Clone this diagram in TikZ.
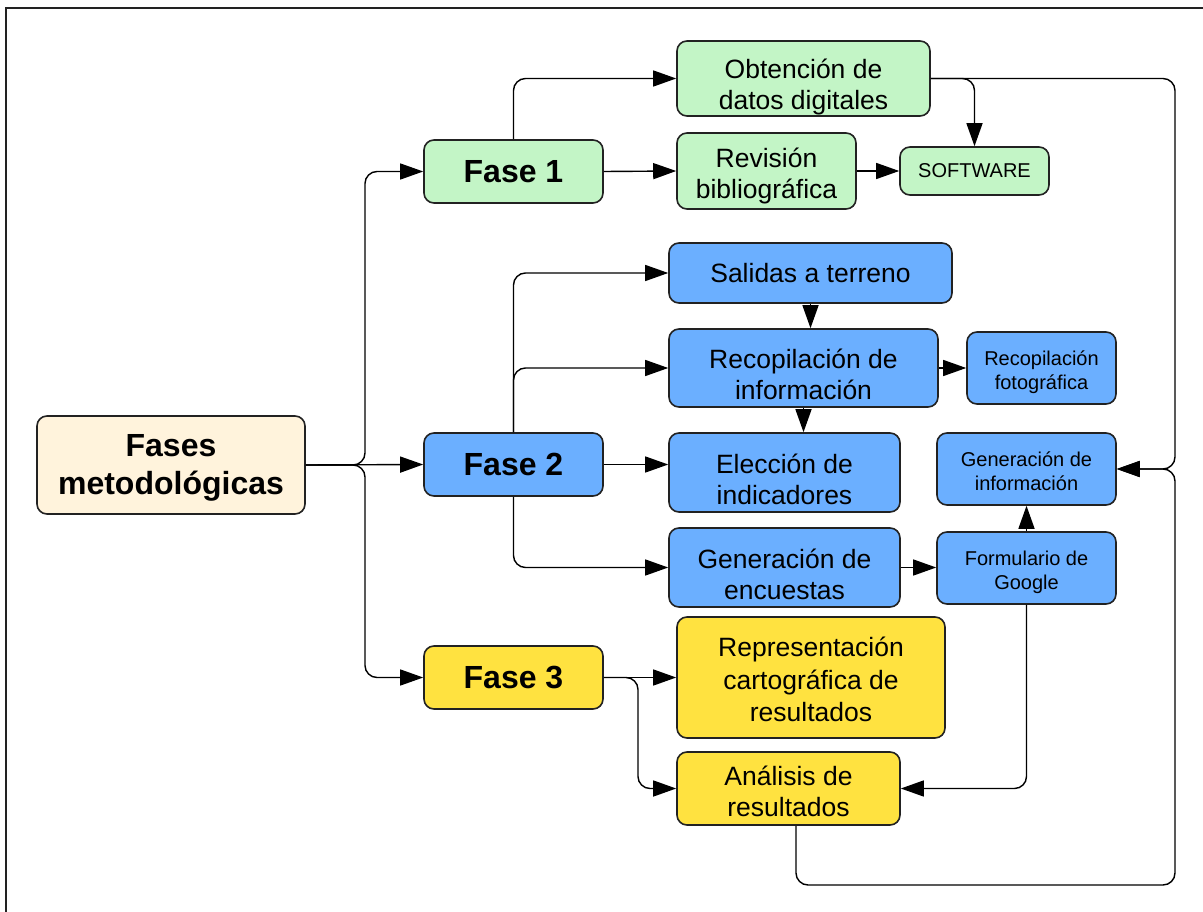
\documentclass[tikz,border=0pt]{standalone}
\usepackage{fontspec}
\setmainfont{Liberation Sans}
\usetikzlibrary{arrows.meta}
\definecolor{cgreen}{HTML}{C3F5C6}
\definecolor{cblue}{HTML}{6BAFFF}
\definecolor{cyellow}{HTML}{FFE240}
\definecolor{ccream}{HTML}{FFF3DC}
\definecolor{cline}{HTML}{222222}
% multi-line text, lowered by #1 pt without changing its reported size
\newcommand{\mltxt}[2]{\raisebox{-#1pt}[\height][\depth]{\begin{tabular}{@{}c@{}}#2\end{tabular}}}
\begin{document}
\begin{tikzpicture}[x=1pt,y=-1pt,
  box/.style={draw=cline, line width=1.6pt, rounded corners=10pt, inner sep=0pt, text=black},
  fbig/.style={font=\fontsize{26.5}{31}\selectfont},
  fbigw/.style={font=\fontsize{26.5}{32.5}\selectfont},
  fsmall/.style={font=\fontsize{20}{24}\selectfont},
  fbold/.style={font=\bfseries\fontsize{32}{38}\selectfont},
  arr/.style={draw=black, line width=1.4pt, rounded corners=12pt, -{Triangle[length=23pt,width=16pt]}},
  conn/.style={draw=black, line width=1.4pt, rounded corners=12pt}]
\useasboundingbox (0,0) rectangle (1203,912);
% frame
\draw[line width=2pt, cline] (6,915) -- (6,8) -- (1206,8);
% nodes
\node[box, fill=ccream, minimum width=268pt, minimum height=98pt, fbold] (fm) at (171,465) {\mltxt{3}{Fases\\metodológicas}};
\node[box, fill=cgreen, minimum width=179pt, minimum height=63pt, fbold] (f1) at (513.5,171.5) {Fase 1};
\node[box, fill=cblue, minimum width=179pt, minimum height=63pt, fbold] (f2) at (513.5,464.5) {Fase 2};
\node[box, fill=cyellow, minimum width=179pt, minimum height=63pt, fbold] (f3) at (513.5,677.5) {Fase 3};
\node[box, fill=cgreen, minimum width=253pt, minimum height=75pt, fbig] (obt) at (803.5,78.5) {\mltxt{9}{Obtención de\\datos digitales}};
\node[box, fill=cgreen, minimum width=179pt, minimum height=76pt, fbig] (rev) at (766.5,171) {\mltxt{6}{Revisión\\bibliográfica}};
\node[box, fill=cgreen, minimum width=149pt, minimum height=48pt, fsmall] (soft) at (974.5,171) {SOFTWARE};
\node[box, fill=cblue, minimum width=283pt, minimum height=60pt, fbig] (sal) at (810.5,273) {Salidas a terreno};
\node[box, fill=cblue, minimum width=269pt, minimum height=78pt, fbig] (rec) at (803.5,368) {\mltxt{10}{Recopilación de\\información}};
\node[box, fill=cblue, minimum width=149pt, minimum height=72pt, fsmall] (foto) at (1041.5,368) {\mltxt{5}{Recopilación\\fotográfica}};
\node[box, fill=cblue, minimum width=231pt, minimum height=79pt, fbig] (ele) at (784.5,472.5) {\mltxt{10}{Elección de\\indicadores}};
\node[box, fill=cblue, minimum width=179pt, minimum height=72pt, fsmall] (geni) at (1026.5,469) {\mltxt{5}{Generación de\\información}};
\node[box, fill=cblue, minimum width=231pt, minimum height=79pt, fbig] (enc) at (784.5,567.5) {\mltxt{10}{Generación de\\encuestas}};
\node[box, fill=cblue, minimum width=179pt, minimum height=72pt, fsmall] (form) at (1026.5,568) {\mltxt{5}{Formulario de\\Google}};
\node[box, fill=cyellow, minimum width=268pt, minimum height=121pt, fbigw] (rep) at (811,677.5) {\mltxt{5}{Representación\\cartográfica de\\resultados}};
\node[box, fill=cyellow, minimum width=223pt, minimum height=73pt, fbig] (ana) at (788.5,788.5) {\mltxt{6}{Análisis de\\resultados}};
% helper coordinates
\coordinate (j) at (365,465);
\coordinate (j3) at (638,677.5);
\coordinate (rj) at (1175,469);
\coordinate (b0) at (796,885);
\coordinate (b1) at (1175,885);
% connectors
\draw[arr] (fm.east) -- (j) |- (f1.west);
\draw[arr] (fm.east) -- (f2.west);
\draw[arr] (fm.east) -- (j) |- (f3.west);
\draw[arr] (f1.north) |- (obt.west);
\draw[arr] (f1.east) -- (rev.west);
\draw[arr] (rev.east) -- (soft.west);
\draw[arr] (obt.east) -| (soft.north);
\draw[arr] (obt.east) -| (rj) -- (geni.east);
\draw[arr] (ana.south -| b0) -- (b0) -- (b1) -- (rj) -- (geni.east);
\draw[arr] (f2.north) |- (sal.west);
\draw[arr] (f2.north) |- (rec.west);
\draw[arr] (f2.east) -- (f2.east -| ele.west);
\draw[arr] (f2.south) |- (enc.west);
\draw[arr] (sal.south) -- (sal.south |- rec.north);
\draw[arr] (rec.south) -- (rec.south |- ele.north);
\draw[arr] (rec.east) -- (rec.east -| foto.west);
\draw[arr] (enc.east) -- (enc.east -| form.west);
\draw[arr] (form.north) -- (geni.south);
\draw[arr] (f3.east) -- (rep.west);
\draw[arr] (f3.east) -- (j3) |- (ana.west);
\draw[arr] (form.south) |- (ana.east);
\end{tikzpicture}
\end{document}
